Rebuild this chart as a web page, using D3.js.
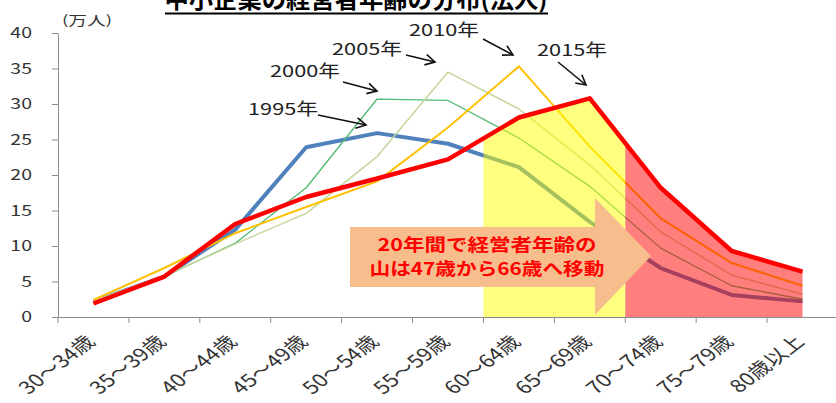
<!DOCTYPE html>
<html><head><meta charset="utf-8">
<script src="https://cdn.jsdelivr.net/npm/d3@7"></script>
<style>body{margin:0;background:#fff;} svg{display:block;font-family:"Noto Sans CJK JP","Noto Sans",sans-serif;}</style>
</head><body><svg id="c" width="836" height="403"></svg>
<script>
const categories = ["30～34歳","35～39歳","40～44歳","45～49歳","50～54歳","55～59歳","60～64歳","65～69歳","70～74歳","75～79歳","80歳以上"];
const years = ["1995年","2000年","2005年","2010年","2015年"];
const v1995 = [2.2, 5.7, 12.3, 23.9, 25.9, 24.4, 21.1, 13.4, 6.9, 3.1, 2.2];
const v2000 = [2.3, 5.7, 10.4, 18.2, 30.7, 30.5, 25.2, 18.4, 9.7, 4.4, 2.5];
const v2005 = [2.3, 5.8, 10.3, 14.6, 22.6, 34.5, 29.3, 21.4, 12.0, 5.9, 3.2];
const v2010 = [2.4, 6.9, 11.8, 15.5, 19.1, 26.7, 35.3, 24.0, 13.9, 7.6, 4.4];
const v2015 = [1.9, 5.7, 13.1, 16.9, 19.5, 22.2, 28.1, 30.8, 18.2, 9.3, 6.4];
const yTicks = [0, 5, 10, 15, 20, 25, 30, 35, 40];
const titleText = "中小企業の経営者年齢の分布(法人)";
const unitText = "(万人)";
const noteLines = ["20年間で経営者年齢の", "山は47歳から66歳へ移動"];
const yellowCats = ["60～64歳", "65～69歳"];
const redCats = ["70～74歳", "75～79歳", "80歳以上"];

const svg = d3.select("#c");
const SX = 1.3; // horizontal stretch of the original text

const x = d3.scaleBand().domain(categories).range([58, 838]).paddingInner(0).paddingOuter(0);
const y = d3.scaleLinear().domain([0, 40]).range([317, 33]);
const cx = c => x(c) + x.bandwidth() / 2;

function stretch(sel, f) {
  sel.each(function () {
    const L = this.getComputedTextLength();
    d3.select(this).attr("textLength", L * f).attr("lengthAdjust", "spacingAndGlyphs");
  });
}

// Axes
const gY = svg.append("g").attr("transform", "translate(58,0)")
  .call(d3.axisLeft(y).tickValues(yTicks).tickSize(6).tickSizeOuter(0).tickPadding(20));
gY.selectAll("path,line").attr("stroke", "#8c8c8c");
gY.selectAll("text").attr("font-size", 15).attr("fill", "#333").attr("font-family", "Noto Sans CJK JP");
stretch(gY.selectAll("text"), SX);

const gX = svg.append("g").attr("transform", "translate(0,317)")
  .call(d3.axisBottom(x).tickSize(0).tickSizeOuter(0).tickFormat(""));
gX.select("path").attr("stroke", "#8c8c8c");
gX.selectAll(".tick").remove();
const bounds = categories.map(c => x(c)).concat([x.range()[1]]);
gX.selectAll("line.bt").data(bounds).join("line").attr("class", "bt")
  .attr("x1", d => d).attr("x2", d => d).attr("y1", 0).attr("y2", 6).attr("stroke", "#8c8c8c");
svg.append("g").selectAll("text").data(categories).join("text")
  .attr("transform", d => `translate(${cx(d) + 3},343) scale(${SX},1) rotate(-45)`)
  .attr("text-anchor", "end").attr("font-size", 17.5).attr("fill", "#333").text(d => d);

// unit label
svg.append("text").attr("x", 62).attr("y", 25).attr("font-size", 13).attr("fill", "#333")
  .text(unitText).attr("textLength", 50).attr("lengthAdjust", "spacingAndGlyphs");

// Lines
const line = d3.line().x((d, i) => cx(categories[i])).y(d => y(d));
const series = [
  {name: years[0], v: v1995, color: "#4f81bd", w: 4},
  {name: years[1], v: v2000, color: "#4fb872", w: 1.3},
  {name: years[2], v: v2005, color: "#c3d69b", w: 1.5},
  {name: years[3], v: v2010, color: "#ffc000", w: 2}
];
svg.append("g").selectAll("path").data(series).join("path")
  .attr("d", d => line(d.v)).attr("fill", "none").attr("stroke", d => d.color)
  .attr("stroke-width", d => d.w).attr("stroke-linejoin", "round");

// highlighted areas under 2015 line
const area = d3.area().x((d, i) => cx(categories[i])).y0(y(0)).y1(d => y(d));
const defs = svg.append("defs");
const yx0 = x(yellowCats[0]), yx1 = x(yellowCats[yellowCats.length - 1]) + x.bandwidth();
const rx0 = x(redCats[0]), rx1 = cx(redCats[redCats.length - 1]) + 3;
defs.append("clipPath").attr("id", "clipY").append("rect").attr("x", yx0).attr("y", 0).attr("width", yx1 - yx0).attr("height", 403);
defs.append("clipPath").attr("id", "clipR").append("rect").attr("x", rx0).attr("y", 0).attr("width", rx1 - rx0).attr("height", 403);
svg.append("path").attr("d", area(v2015)).attr("fill", "rgba(255,255,0,0.5)").attr("clip-path", "url(#clipY)");
svg.append("path").attr("d", area(v2015)).attr("fill", "rgba(255,0,0,0.5)").attr("clip-path", "url(#clipR)");

svg.append("path").attr("d", line(v2015)).attr("fill", "none").attr("stroke", "#ff0000")
  .attr("stroke-width", 4.5).attr("stroke-linejoin", "round");

// Block arrow
svg.append("path")
  .attr("d", "M350,227 L595,227 L595,198 L651,256 L595,315 L595,287 L350,287 Z")
  .attr("fill", "#f8bd8d");
svg.append("g").selectAll("text").data(noteLines).join("text")
  .attr("x", 487).attr("y", (d, i) => 251 + i * 24).attr("text-anchor", "middle")
  .attr("font-size", 17.5).attr("font-weight", "bold").attr("fill", "#ff0000")
  .attr("textLength", (d, i) => [219, 235][i]).attr("lengthAdjust", "spacingAndGlyphs").text(d => d);

// Year annotations
const ann = [
  {t: years[0], tx: 248, ty: 115, a: [318, 115, 366, 125]},
  {t: years[1], tx: 270, ty: 77, a: [343, 82, 377, 91]},
  {t: years[2], tx: 332, ty: 55, a: [406, 55, 435, 62]},
  {t: years[3], tx: 409, ty: 36, a: [483, 39, 513, 55]},
  {t: years[4], tx: 537, ty: 56, a: [558, 62, 586, 85]}
];
const ga = svg.append("g");
ann.forEach(d => {
  ga.append("text").attr("x", d.tx).attr("y", d.ty).attr("font-size", 16.5).attr("fill", "#222")
    .attr("textLength", 70).attr("lengthAdjust", "spacingAndGlyphs").text(d.t);
  const [x1, y1, x2, y2] = d.a;
  ga.append("line").attr("x1", x1).attr("y1", y1).attr("x2", x2).attr("y2", y2)
    .attr("stroke", "#111").attr("stroke-width", 1.6);
  const ang = Math.atan2(y2 - y1, x2 - x1), L = 11, s = 0.5;
  const p1 = [x2 - L * Math.cos(ang - s), y2 - L * Math.sin(ang - s)];
  const p2 = [x2 - L * Math.cos(ang + s), y2 - L * Math.sin(ang + s)];
  ga.append("path").attr("d", `M${p1[0]},${p1[1]} L${x2},${y2} L${p2[0]},${p2[1]}`)
    .attr("fill", "none").attr("stroke", "#111").attr("stroke-width", 1.6);
});

// Title (cut off at top, as in the original)
svg.append("text").attr("x", 356).attr("y", 8).attr("text-anchor", "middle")
  .attr("font-size", 24).attr("font-weight", "bold").attr("fill", "#000")
  .attr("textLength", 383).attr("lengthAdjust", "spacingAndGlyphs").text(titleText);
svg.append("line").attr("x1", 165).attr("x2", 548).attr("y1", 13.5).attr("y2", 13.5)
  .attr("stroke", "#000").attr("stroke-width", 2);
</script></body></html>
